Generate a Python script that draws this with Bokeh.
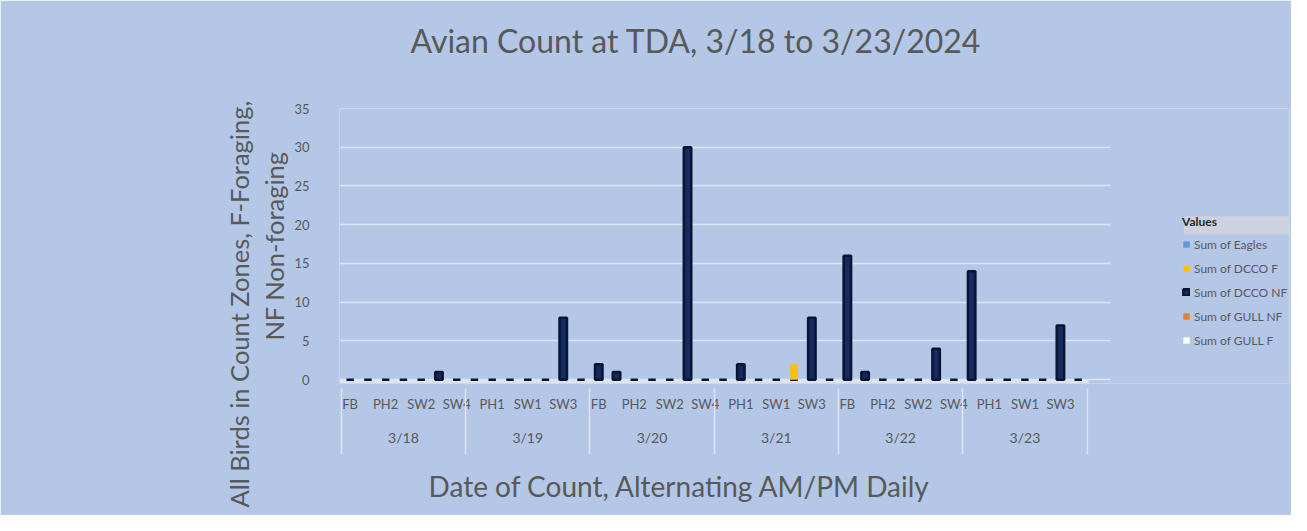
from bokeh.plotting import figure
from bokeh.models import (ColumnDataSource, Range1d, FixedTicker, LinearAxis, Grid,
                          Legend, LegendItem, Title, BoxAnnotation)
from bokeh.embed import file_html
from bokeh.resources import INLINE

# ---------------- data ----------------
dates = ["3/18", "3/19", "3/20", "3/21", "3/22", "3/23"]
zones = ["FB", "PH1", "PH2", "SW1", "SW2", "SW3", "SW4"]

series_names = ["Sum of Eagles", "Sum of DCCO F", "Sum of DCCO NF",
                "Sum of GULL NF", "Sum of GULL F"]

eagles = [0, 0, 0, 0, 0, 0, 0,
          0, 0, 0, 0, 0, 0, 0,
          0, 0, 0, 0, 0, 0, 0,
          0, 0, 0, 0, 0, 0, 0,
          0, 0, 0, 0, 0, 0, 0,
          0, 0, 0, 0, 0, 0, 0]
dcco_f = [0, 0, 0, 0, 0, 0, 0,
          0, 0, 0, 0, 0, 0, 0,
          0, 0, 0, 0, 0, 0, 0,
          0, 0, 0, 0, 2, 0, 0,
          0, 0, 0, 0, 0, 0, 0,
          0, 0, 0, 0, 0, 0, 0]
dcco_nf = [0, 0, 0, 0, 0, 1, 0,
           0, 0, 0, 0, 0, 8, 0,
           2, 1, 0, 0, 0, 30, 0,
           0, 2, 0, 0, 0, 8, 0,
           16, 1, 0, 0, 0, 4, 0,
           14, 0, 0, 0, 0, 7, 0]
gull_nf = [0, 0, 0, 0, 0, 0, 0,
           0, 0, 0, 0, 0, 0, 0,
           0, 0, 0, 0, 0, 0, 0,
           0, 0, 0, 0, 0, 0, 0,
           0, 0, 0, 0, 0, 0, 0,
           0, 0, 0, 0, 0, 0, 0]
gull_f = [0, 0, 0, 0, 0, 0, 0,
          0, 0, 0, 0, 0, 0, 0,
          0, 0, 0, 0, 0, 0, 0,
          0, 0, 0, 0, 0, 0, 0,
          0, 0, 0, 0, 0, 0, 0,
          0, 0, 0, 0, 0, 0, 0]

y_ticks = [0, 5, 10, 15, 20, 25, 30, 35]

# ---------------- styling ----------------
BG = "#B4C7E7"
TXT = "#595959"
FONT = "Lato"
GRID = "#DCE5F3"
FLOOR = "#DDE4EF"

cats = [(d, z) for d in dates for z in zones]
xs = list(range(len(cats)))
n_z = len(zones)
x_lo, x_hi = -0.6, len(cats) - 0.4

src = ColumnDataSource(dict(x=xs, eagles=eagles, dcco_f=dcco_f, dcco_nf=dcco_nf,
                            gull_nf=gull_nf, gull_f=gull_f))

# the frame is widened to the right so the legend can sit beside the bars
p = figure(width=1291, height=515, output_backend="svg", toolbar_location=None,
           x_range=Range1d(x_lo, 52.9), y_range=Range1d(-0.5, 35),
           x_axis_type=None,
           min_border_left=339, min_border_right=2,
           min_border_top=108, min_border_bottom=132)
p.background_fill_color = BG
p.border_fill_color = BG
p.outline_line_color = None

# chart title (a blank spacer title keeps it up, away from the plot area)
p.add_layout(Title(text=" ", text_font_size="1px", standoff=46), "above")
p.add_layout(Title(text="Avian Count at TDA, 3/18 to 3/23/2024", align="left", offset=71,
                   text_font=FONT, text_font_size="32px", text_font_style="normal",
                   text_color=TXT, standoff=0), "above")

# y axis
yt = FixedTicker(ticks=y_ticks)
p.yaxis.ticker = yt
g = p.ygrid[0]
g.ticker = yt
g.grid_line_color = GRID
g.grid_line_width = 1.5
has_cross = "cross_bounds" in g.properties()
if has_cross:
    g.cross_bounds = (x_lo, 42.8)
ya = p.yaxis[0]
ya.axis_line_color = None
ya.major_tick_line_color = None
ya.minor_tick_line_color = None
ya.major_label_text_color = TXT
ya.major_label_text_font = FONT
ya.major_label_text_font_size = "13px"
ya.major_label_standoff = 24

# floor strip under the bars
floor = Grid(dimension=1, ticker=FixedTicker(ticks=[-0.25]),
             grid_line_color=FLOOR, grid_line_width=4)
if has_cross:
    floor.cross_bounds = (x_lo, x_hi)
p.add_layout(floor)

# y axis title, two lines
p.add_layout(Title(text="NF Non-foraging", align="center",
                   text_font=FONT, text_font_size="25.5px", text_font_style="normal",
                   text_color=TXT, standoff=6), "left")
p.add_layout(Title(text="All Birds in Count Zones, F-Foraging,", align="left", offset=-124,
                   text_font=FONT, text_font_size="25.5px", text_font_style="normal",
                   text_color=TXT, standoff=0), "left")

# stacked bars (DCCO NF drawn at the base so that empty counts show as floor dashes)
stack_order = ["dcco_nf", "eagles", "dcco_f", "gull_nf", "gull_f"]
fills = ["#142A60", "#5B9BD5", "#FFC000", "#ED7D31", "#FFFFFF"]
lines = ["#0A1430", None, None, None, None]
rs = p.vbar_stack(stack_order, x="x", width=0.42, source=src,
                  fill_color=fills, line_color=lines, line_width=2.5)
r_by = dict(zip(stack_order, rs))

# x axes: zones (every other label), dates, and group dividers
even = xs[::2]
ax_sub = LinearAxis(ticker=FixedTicker(ticks=even), bounds=(x_lo, x_hi),
                    major_label_overrides={i: cats[i][1] for i in even})
ax_sub.axis_line_color = None
ax_sub.major_tick_line_color = None
ax_sub.minor_tick_line_color = None
ax_sub.major_tick_out = 0
ax_sub.major_label_standoff = 12
ax_sub.major_label_text_color = TXT
ax_sub.major_label_text_font = FONT
ax_sub.major_label_text_font_size = "13px"

centers = [gi * n_z + (n_z - 1) / 2 for gi in range(len(dates))]
ax_date = LinearAxis(ticker=FixedTicker(ticks=centers),
                     major_label_overrides={c: d for c, d in zip(centers, dates)})
ax_date.axis_line_color = None
ax_date.major_tick_line_color = None
ax_date.minor_tick_line_color = None
ax_date.major_tick_out = 0
ax_date.major_label_standoff = 14
ax_date.major_label_text_color = TXT
ax_date.major_label_text_font = FONT
ax_date.major_label_text_font_size = "14px"

bounds = [gi * n_z - 0.5 for gi in range(len(dates) + 1)]
ax_div = LinearAxis(ticker=FixedTicker(ticks=bounds),
                    major_label_overrides={b: "" for b in bounds})
ax_div.axis_line_color = None
ax_div.minor_tick_line_color = None
ax_div.major_tick_line_color = FLOOR
ax_div.major_tick_line_width = 1.5
ax_div.major_tick_out = 6
ax_div.major_tick_in = 60
ax_div.major_label_standoff = 0
ax_div.major_label_text_font_size = "1px"

p.add_layout(ax_sub, "below")
p.add_layout(ax_date, "below")
p.add_layout(ax_div, "below")

# x axis title, with a blank spacer above it
p.add_layout(Title(text=" ", text_font_size="1px", standoff=9), "below")
p.add_layout(Title(text="Date of Count, Alternating AM/PM Daily", align="left", offset=89,
                   text_font=FONT, text_font_size="28px", text_font_style="normal",
                   text_color=TXT, standoff=0), "below")

# legend, with the grey header band behind its title
p.add_layout(BoxAnnotation(left=46.95, right=53.0, top=21.1, bottom=18.75,
                           fill_color="#CDD4DE", fill_alpha=0.95, line_color=None))
legend_keys = ["eagles", "dcco_f", "dcco_nf", "gull_nf", "gull_f"]
items = [LegendItem(label=nm, renderers=[r_by[k]]) for nm, k in zip(series_names, legend_keys)]
legend = Legend(items=items, location=(843, 35), title="Values")
legend.title_text_font = FONT
legend.title_text_font_size = "12px"
legend.title_text_font_style = "bold"
legend.title_text_color = "#262626"
legend.title_standoff = 7
legend.label_text_font = FONT
legend.label_text_font_size = "12px"
legend.label_text_color = TXT
legend.glyph_width = 8
legend.glyph_height = 8
legend.label_standoff = 4
legend.label_height = 16
legend.spacing = 8
legend.padding = 4
legend.margin = 0
legend.background_fill_alpha = 0
legend.border_line_color = None
p.add_layout(legend, "center")

open("out.html", "w").write(file_html(p, INLINE))
